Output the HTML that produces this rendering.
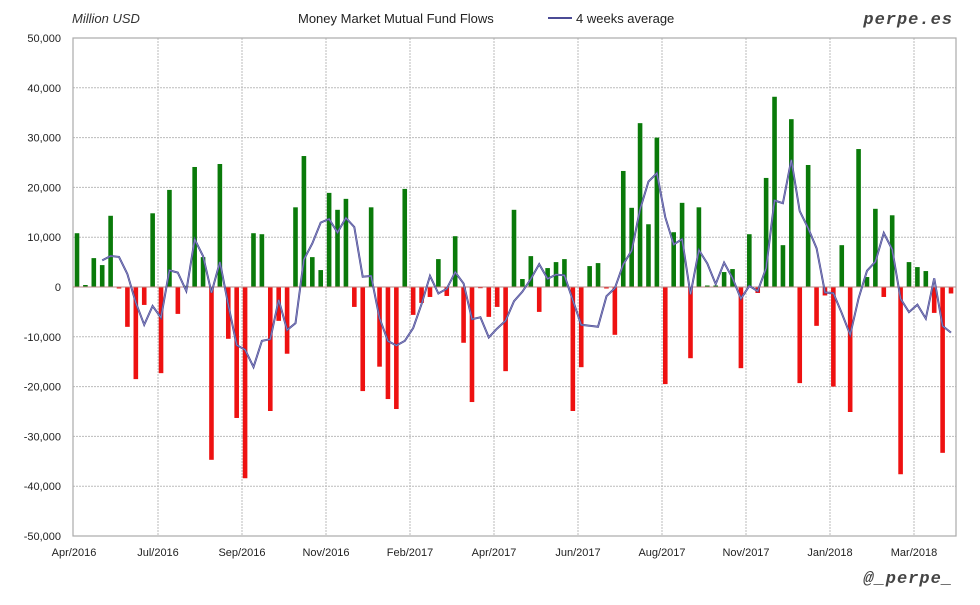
<!DOCTYPE html>
<html><head><meta charset="utf-8"><style>
body{margin:0;background:#fff;width:980px;height:600px;overflow:hidden}
svg text{font-family:"Liberation Sans",sans-serif}
</style></head><body>
<svg id="c" width="980" height="600" xmlns="http://www.w3.org/2000/svg">
<rect x="0" y="0" width="980" height="600" fill="#fff"/>
<g id="grid"></g>
<rect x="73" y="38" width="883" height="498" fill="none" stroke="#aaa" stroke-width="1.2"/>
<g id="bars"></g>
<line x1="73" y1="287" x2="956" y2="287" stroke="#b88" stroke-width="1"/>
<polyline id="avg" fill="none" stroke="#4b4b95" stroke-width="2"/>
<polyline id="avg2" fill="none" stroke="#9a9acc" stroke-width="0.6"/>
<g id="labels" font-size="11" fill="#222"></g>
<text x="72" y="23" font-size="13" font-style="italic" fill="#333">Million USD</text>
<text x="298" y="23" font-size="13" fill="#222">Money Market Mutual Fund Flows</text>
<line x1="548" y1="18" x2="572" y2="18" stroke="#4b4b95" stroke-width="2"/>
<text x="576" y="23" font-size="13" fill="#222">4 weeks average</text>
<text x="953" y="24" font-size="17" font-weight="bold" font-style="italic" text-anchor="end" fill="#444" style="font-family:'Liberation Mono',monospace;letter-spacing:1px">perpe.es</text>
<text x="953" y="583" font-size="17" font-weight="bold" font-style="italic" text-anchor="end" fill="#444" style="font-family:'Liberation Mono',monospace;letter-spacing:1px">@_perpe_</text>
</svg>
<script>
var v=[10.8,0.4,5.8,4.4,14.3,-0.3,-8,-18.5,-3.6,14.8,-17.3,19.5,-5.4,0,24.1,6,-34.7,24.7,-10.4,-26.3,-38.4,10.8,10.6,-24.9,-6.8,-13.4,16,26.3,6,3.4,18.9,15.5,17.7,-4,-20.9,16,-16,-22.5,-24.5,19.7,-5.6,-3.2,-2,5.6,-1.8,10.2,-11.2,-23.1,-0.2,-6,-4,-16.9,15.5,1.6,6.2,-5,3.8,5,5.6,-24.9,-16.1,4.2,4.8,-0.3,-9.6,23.3,15.9,32.9,12.6,30,-19.5,11,16.9,-14.3,16,0.3,0.3,3,3.6,-16.3,10.6,-1.2,21.9,38.2,8.4,33.7,-19.3,24.5,-7.8,-1.7,-20,8.4,-25.1,27.7,2,15.7,-2,14.4,-37.6,5,4,3.2,-5.2,-33.3,-1.3];
var NS="http://www.w3.org/2000/svg";
function el(t,a,p){var e=document.createElementNS(NS,t);for(var k in a)e.setAttribute(k,a[k]);document.getElementById(p).appendChild(e);return e;}
function Y(val){return 287-val*4.98;}
for(var k=-5;k<=5;k++){var y=287-k*49.8;
 el('line',{x1:73,x2:956,y1:y,y2:y,stroke:'#bbb','stroke-dasharray':'2,1','stroke-width':1},'grid');
 var t=el('text',{x:61,y:y+4,'text-anchor':'end'},'labels');t.textContent=(k*10000).toLocaleString('en-US');}
var months=['Apr/2016','Jul/2016','Sep/2016','Nov/2016','Feb/2017','Apr/2017','Jun/2017','Aug/2017','Nov/2017','Jan/2018','Mar/2018'];
for(var i=0;i<months.length;i++){var x=74+84*i;
 if(i>0)el('line',{x1:x,x2:x,y1:38,y2:536,stroke:'#bbb','stroke-dasharray':'2,1','stroke-width':1},'grid');
 var t=el('text',{x:x,y:556,'text-anchor':'middle'},'labels');t.textContent=months[i];}
var pts=[];
for(var i=0;i<v.length;i++){var x=77+8.404*i,val=v[i];
 var y=Y(val);var h=Math.abs(y-287);if(h<1)h=1.2;
 el('rect',{x:x-2.3,y:val>=0?287-h:287,width:4.6,height:h,fill:val>=0?'#0a7a0a':'#ee1111'},'bars');
 if(i>=3){var a=(v[i]+v[i-1]+v[i-2]+v[i-3])/4;pts.push(x.toFixed(1)+','+Y(a).toFixed(1));}}
document.getElementById('avg').setAttribute('points',pts.join(' '));
document.getElementById('avg2').setAttribute('points',pts.join(' '));
</script>
</body></html>
